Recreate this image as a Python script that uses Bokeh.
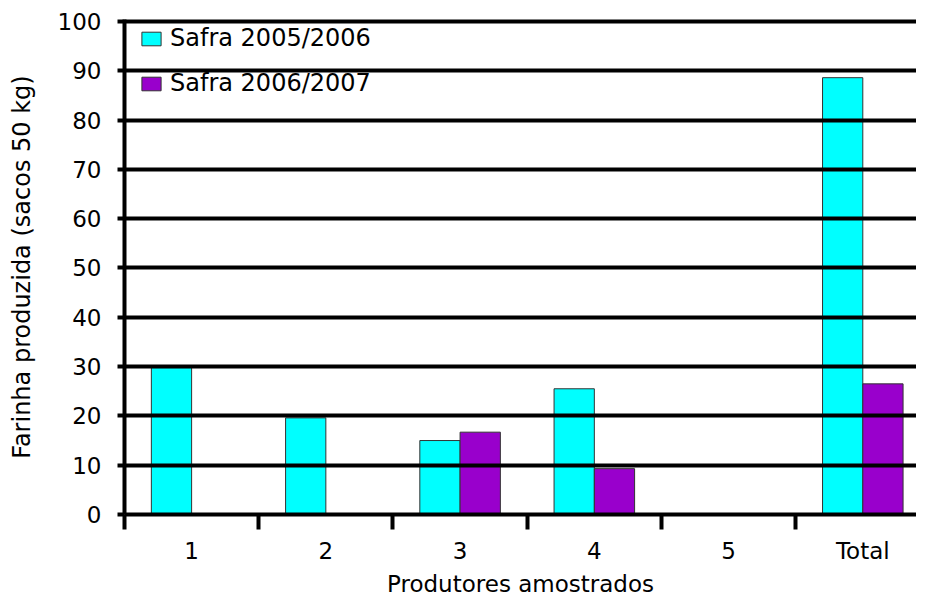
from bokeh.plotting import figure
from bokeh.models import Range1d, FixedTicker, Legend, LegendItem, ColumnDataSource
from bokeh.transform import dodge
from bokeh.embed import file_html
from bokeh.resources import INLINE

# Data
categories = ["1", "2", "3", "4", "5", "Total"]
safra_2005_2006 = [29.8, 19.6, 15.0, 25.5, 0, 88.6]
safra_2006_2007 = [0, 0, 16.7, 9.3, 0, 26.5]
series_names = ["Safra 2005/2006", "Safra 2006/2007"]
y_ticks = [0, 10, 20, 30, 40, 50, 60, 70, 80, 90, 100]

FONT = "DejaVu Sans"
FS = "23px"

centers = [i + 0.5 for i in range(len(categories))]
boundaries = list(range(len(categories)))

src = ColumnDataSource(dict(
    x=centers,
    a=safra_2005_2006,
    b=safra_2006_2007,
))

p = figure(width=916, height=599, output_backend="svg", toolbar_location=None,
           x_range=Range1d(0, 5.9), y_range=Range1d(0, 100.4),
           min_border_left=124, min_border_right=0, min_border_top=19, min_border_bottom=83)
p.outline_line_color = None
p.background_fill_color = "white"

r1 = p.vbar(x=dodge("x", -0.15), top="a", width=0.3, source=src,
            fill_color="#00FFFF", line_color="#333333", line_width=1)
r2 = p.vbar(x=dodge("x", 0.15), top="b", width=0.3, source=src,
            fill_color="#9900CC", line_color="#333333", line_width=1)

# X axis
p.xaxis.ticker = FixedTicker(ticks=centers, minor_ticks=boundaries)
p.xaxis.major_label_overrides = {c: lab for c, lab in zip(centers, categories)}
p.xaxis.major_tick_line_color = None
p.xaxis.major_tick_out = 0
p.xaxis.major_tick_in = 0
p.xaxis.minor_tick_out = 15
p.xaxis.minor_tick_in = 0
p.xaxis.minor_tick_line_width = 4
p.xaxis.minor_tick_line_color = "black"
p.xaxis.axis_line_width = 4
p.xaxis.axis_line_color = "black"
p.xaxis.major_label_standoff = 8
p.xaxis.major_label_text_font = FONT
p.xaxis.major_label_text_font_size = FS
p.xaxis.major_label_text_color = "black"
p.xaxis.axis_label = "Produtores amostrados"
p.xaxis.axis_label_text_font = FONT
p.xaxis.axis_label_text_font_size = FS
p.xaxis.axis_label_text_font_style = "normal"
p.xaxis.axis_label_text_color = "black"
p.xaxis.axis_label_standoff = 4

# Y axis
p.yaxis.ticker = FixedTicker(ticks=y_ticks, minor_ticks=[])
p.yaxis.major_tick_out = 7
p.yaxis.major_tick_in = 0
p.yaxis.major_tick_line_width = 4
p.yaxis.major_tick_line_color = "black"
p.yaxis.axis_line_width = 4
p.yaxis.axis_line_color = "black"
p.yaxis.major_label_standoff = 16
p.yaxis.major_label_text_font = FONT
p.yaxis.major_label_text_font_size = FS
p.yaxis.major_label_text_color = "black"
p.yaxis.axis_label = "Farinha produzida (sacos 50 kg)"
p.yaxis.axis_label_text_font = FONT
p.yaxis.axis_label_text_font_size = "24px"
p.yaxis.axis_label_text_font_style = "normal"
p.yaxis.axis_label_text_color = "black"
p.yaxis.axis_label_standoff = 19

# Grid drawn over the bars
p.xgrid.grid_line_color = None
p.ygrid.ticker = FixedTicker(ticks=y_ticks[1:], minor_ticks=[])
p.ygrid.grid_line_color = "black"
p.ygrid.grid_line_width = 4
p.ygrid.level = "annotation"

legend = Legend(items=[LegendItem(label=series_names[0], renderers=[r1]),
                       LegendItem(label=series_names[1], renderers=[r2])],
                location=(15, 417), padding=0, margin=0, spacing=17,
                glyph_width=24, glyph_height=17, label_height=28,
                label_standoff=7, border_line_color=None,
                background_fill_alpha=0,
                label_text_font=FONT, label_text_font_size="24px",
                label_text_color="black")
p.add_layout(legend)

open("out.html", "w").write(file_html(p, INLINE))
